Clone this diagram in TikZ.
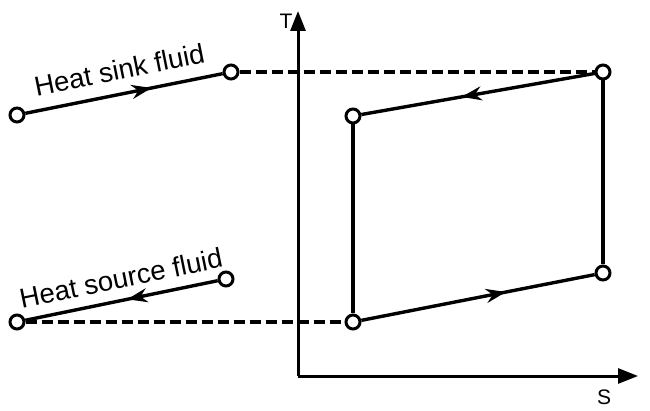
\documentclass[tikz,border=0pt]{standalone}
\usepackage{fontspec}
\setmainfont{Liberation Sans}
\usetikzlibrary{arrows.meta,decorations.markings}
\begin{document}
\begin{tikzpicture}[x=1pt,y=-1pt,
  pt/.style={circle,draw,line width=3pt,fill=white,inner sep=0pt,minimum size=14pt},
  flow/.style={line width=3.4pt},
  dashline/.style={line width=3.6pt,dash pattern=on 11pt off 5pt},
  axis/.style={line width=3pt,-{Triangle[length=20pt,width=15pt]}},
  midarrow/.style={postaction={decorate},decoration={markings,mark=at position #1 with {\arrow{Stealth[length=20pt,width=14pt]}}}},
  lbl/.style={font=\fontsize{27.5}{30}\selectfont},
  axlbl/.style={font=\fontsize{21}{24}\selectfont}
]
\useasboundingbox (0,0) rectangle (650,411);
% axes
\coordinate (O) at (298,376);
\coordinate (Ttip) at (298,11);
\coordinate (Stip) at (638,376);
\draw[axis] (O) -- (Ttip);
\draw[axis] (O) -- (Stip);
\node[axlbl] (T) at (286,21) {T};
\node[axlbl] (S) at (604,397) {S};
% points
\node[pt] (sL) at (17,115) {};
\node[pt] (sR) at (231,72) {};
\node[pt] (c1) at (603,72) {};
\node[pt] (c2) at (353,116) {};
\node[pt] (c3) at (353,322) {};
\node[pt] (c4) at (603,273) {};
\node[pt] (qL) at (17,322) {};
\node[pt] (qR) at (226,279) {};
% dashed
\draw[dashline] (sR) -- (c1);
\draw[dashline] (qL) -- (c3);
% cycle
\draw[flow,midarrow=0.57] (c1) -- (c2);
\draw[flow] (c2) -- (c3);
\draw[flow,midarrow=0.62] (c3) -- (c4);
\draw[flow] (c4) -- (c1);
% fluids
\draw[flow,midarrow=0.64] (sL) -- (sR) node[midway,sloped,above=9pt,lbl] {Heat sink fluid};
\draw[flow,midarrow=0.47] (qR) -- (qL) node[midway,sloped,above=7pt,lbl,xshift=4pt] {Heat source fluid};
\end{tikzpicture}
\end{document}
